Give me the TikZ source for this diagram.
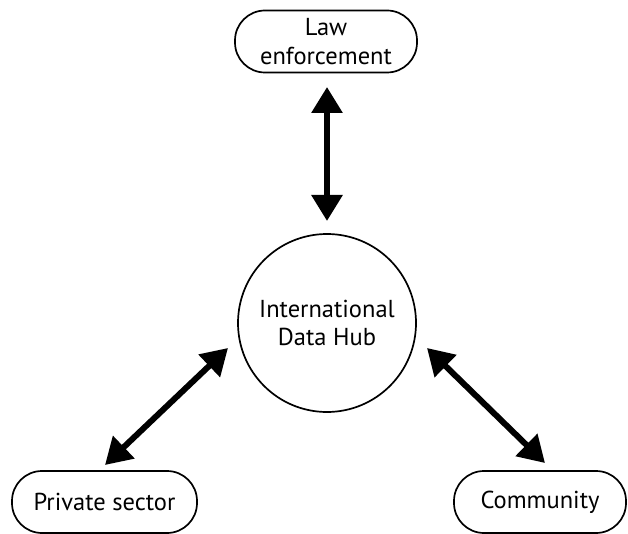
\documentclass[tikz,border=0pt]{standalone}
\usepackage{fontspec}
\setmainfont{PT Sans}
\usetikzlibrary{arrows.meta}
\begin{document}
\begin{tikzpicture}[x=1pt,y=-1pt,
  every node/.style={font=\fontsize{24.5}{28.5}\selectfont, align=center, inner sep=0pt},
  pill/.style={draw, line width=1.7pt, rounded corners=30pt, minimum height=62pt},
  hub/.style={draw, circle, line width=1.7pt, minimum size=178pt},
  link/.style={line width=6pt, {Triangle[width=30pt,length=26pt]}-{Triangle[width=30pt,length=26pt]}}]
\useasboundingbox (0,0) rectangle (628,534);
\node[pill, minimum width=182pt] (law) at (326,41.5) {Law\\enforcement};
\node[pill, minimum width=185pt] (priv) at (104.5,502) {Private sector};
\node[pill, minimum width=172pt] (comm) at (540,502) {Community};
\node[hub] (hub) at (327,323) {International\\Data Hub};
\coordinate (a1) at (327,87);
\coordinate (a2) at (327,221);
\coordinate (b1) at (105,465);
\coordinate (b2) at (228,348);
\coordinate (c1) at (427,348);
\coordinate (c2) at (545,463);
\draw[link] (a1) -- (a2);
\draw[link] (b1) -- (b2);
\draw[link] (c1) -- (c2);
\end{tikzpicture}
\end{document}
